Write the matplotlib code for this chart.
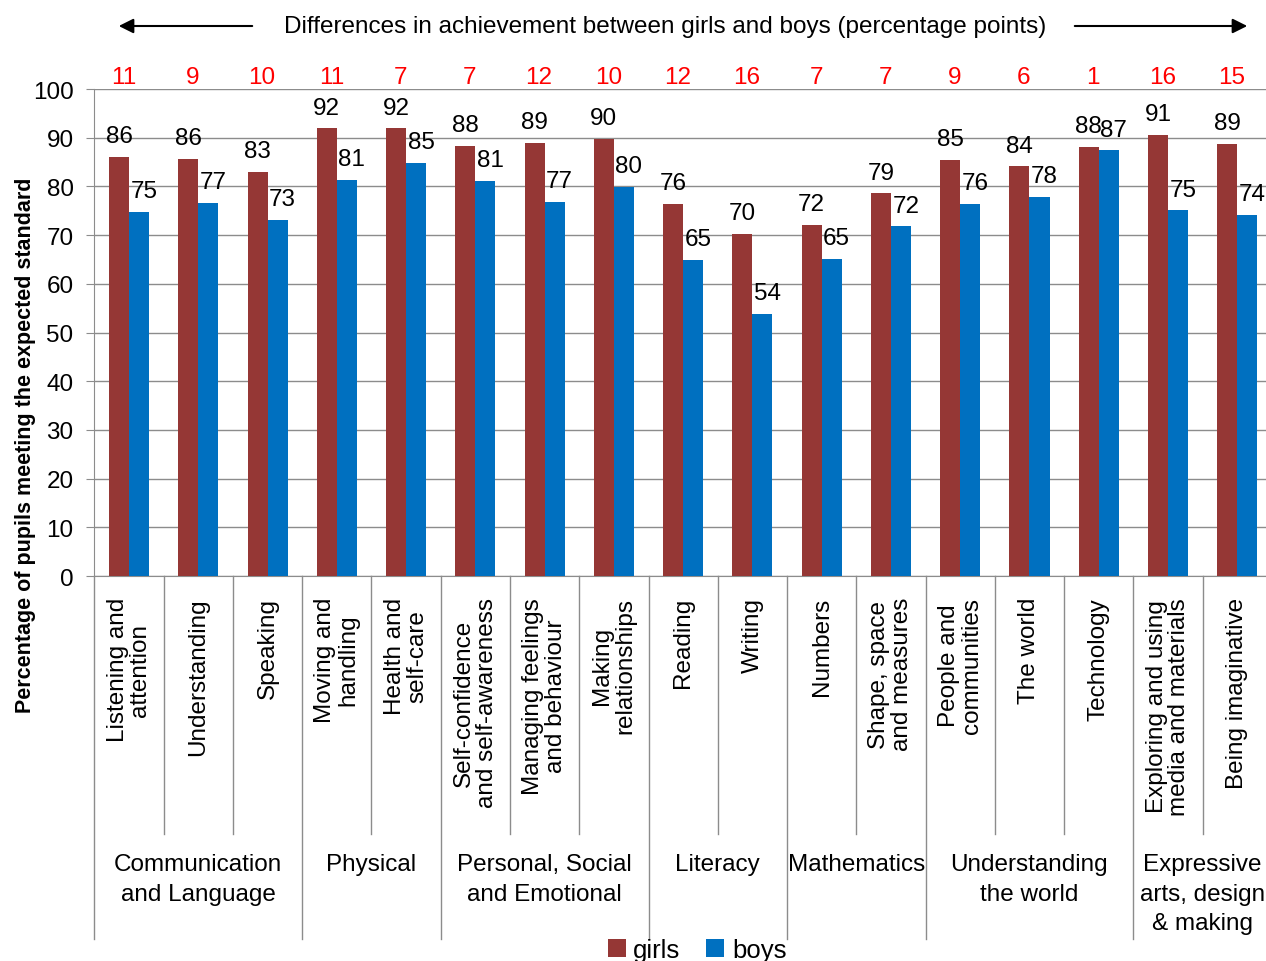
import matplotlib.pyplot as plt
import numpy as np
from matplotlib.patches import FancyArrowPatch

plt.rcParams["font.family"] = ["Liberation Sans", "DejaVu Sans"]

categories = [
    "Listening and\nattention", "Understanding", "Speaking",
    "Moving and\nhandling", "Health and\nself-care",
    "Self-confidence\nand self-awareness", "Managing feelings\nand behaviour",
    "Making\nrelationships", "Reading", "Writing", "Numbers",
    "Shape, space\nand measures", "People and\ncommunities", "The world",
    "Technology", "Exploring and using\nmedia and materials", "Being imaginative",
]
girls = [86.1, 85.7, 83.0, 91.9, 91.9, 88.4, 89.0, 89.7, 76.4, 70.3, 72.1,
         78.6, 85.4, 84.1, 88.2, 90.6, 88.7]
boys = [74.8, 76.6, 73.1, 81.3, 84.9, 81.1, 76.9, 79.9, 64.9, 53.8, 65.2,
        71.8, 76.4, 77.8, 87.4, 75.1, 74.1]
differences = [11, 9, 10, 11, 7, 7, 12, 10, 12, 16, 7, 7, 9, 6, 1, 16, 15]

groups = ["Communication\nand Language", "Physical", "Personal, Social\nand Emotional",
          "Literacy", "Mathematics", "Understanding\nthe world",
          "Expressive\narts, design\n& making"]
group_sizes = [3, 2, 3, 2, 2, 3, 2]

GIRLS_COL = "#953735"
BOYS_COL = "#0070C0"
GRID_COL = "#8c8c8c"
FS = 17.5

fig = plt.figure(figsize=(12.66, 9.62), dpi=100)
ax = fig.add_axes([0.0746, 0.4002, 0.93, 0.5062])

x = np.arange(len(categories))
w = 0.29
ax.bar(x - w / 2, girls, w, color=GIRLS_COL, label="girls", zorder=3)
ax.bar(x + w / 2, boys, w, color=BOYS_COL, label="boys", zorder=3)

for i in range(len(categories)):
    ax.annotate(f"{girls[i]:.0f}", (x[i] - w / 2, girls[i]), xytext=(0, 7),
                textcoords="offset points", ha="center", va="bottom", fontsize=FS)
    ax.annotate(f"{boys[i]:.0f}", (x[i] + w / 2 + 0.07, boys[i]), xytext=(0, 7),
                textcoords="offset points", ha="center", va="bottom", fontsize=FS)
    ax.text(x[i] - 0.08, 100.3, str(differences[i]), color="red", ha="center",
            va="bottom", fontsize=FS)

ax.set_xlim(-0.5, len(categories) - 0.5)
ax.set_ylim(0, 100)
ax.set_yticks(range(0, 101, 10))
ax.tick_params(axis="y", labelsize=FS, length=6, color=GRID_COL, pad=9)
ax.set_xticks([])
ax.grid(axis="y", color=GRID_COL, lw=1, zorder=0)
for s in ["top", "right"]:
    ax.spines[s].set_visible(False)
ax.spines["left"].set_color(GRID_COL)
ax.spines["bottom"].set_color(GRID_COL)

# category labels and separators below the axis
for i, lab in enumerate(categories):
    ax.text(x[i], -4.3, lab, rotation=90, ha="center", va="top",
            multialignment="center", fontsize=FS, linespacing=1.05, clip_on=False)

bounds = np.cumsum(group_sizes) - 0.5
ax.plot([-0.5, -0.5], [0, -74.5], color=GRID_COL, lw=1, clip_on=False)
for b in np.arange(0.5, len(categories) - 1):
    depth = -74.5 if b in bounds else -53
    ax.plot([b, b], [0, depth], color=GRID_COL, lw=1, clip_on=False)

start = 0
for g, n in zip(groups, group_sizes):
    ax.text(start + (n - 1) / 2, -56.9, g, ha="center", va="top",
            multialignment="center", fontsize=FS, linespacing=1.45, clip_on=False)
    start += n

fig.text(0.02, 1 - 445 / 962, "Percentage of pupils meeting the expected standard",
         rotation=90, ha="center", va="center", fontsize=15.5, fontweight="bold")

# header with arrows
fig.text(665 / 1266, 1 - 27 / 962,
         "Differences in achievement between girls and boys (percentage points)",
         ha="center", va="center", fontsize=FS)
y_arrow = 1 - 27 / 962
for x0, x1 in [(255, 116), (1072, 1250)]:
    fig.patches.append(FancyArrowPatch(
        (x0 / 1266, y_arrow), (x1 / 1266, y_arrow), transform=fig.transFigure,
        arrowstyle="-|>", mutation_scale=22, lw=1.5, color="black"))

fig.legend(loc="center", bbox_to_anchor=(697 / 1266, 0.011), ncol=2, frameon=False,
           fontsize=18.5, handlelength=0.7, handleheight=0.7, handletextpad=0.3,
           columnspacing=1.0, borderpad=0)

fig.savefig("out.png", dpi=100)
